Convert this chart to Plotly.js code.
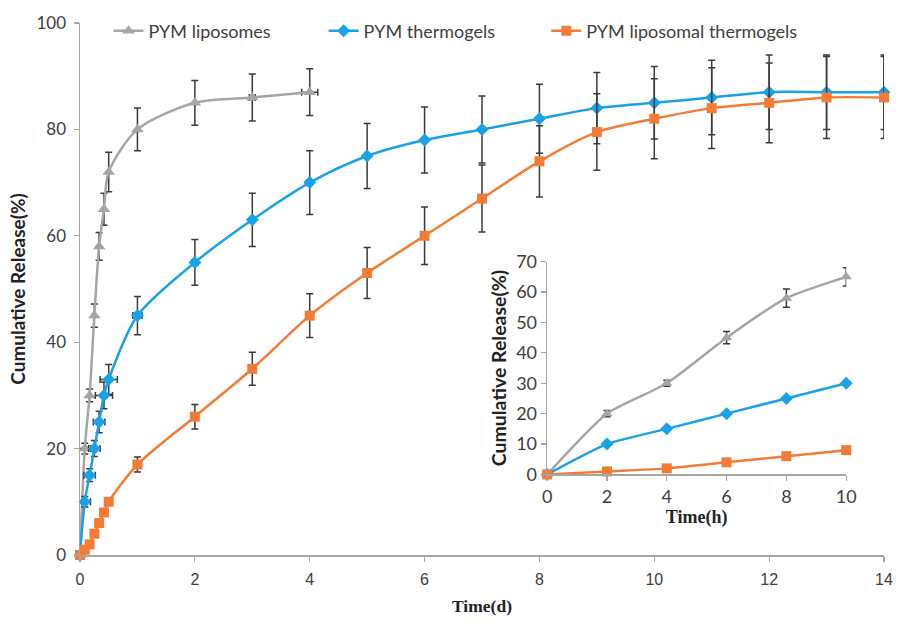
<!DOCTYPE html>
<html>
<head>
<meta charset="utf-8">
<script src="https://cdn.plot.ly/plotly-3.0.1.min.js"></script>
<style>html,body{margin:0;padding:0;background:#fff;}#chart{width:897px;height:621px;}</style>
</head>
<body>
<div id="chart"></div>
<script>
// ---- Main chart data (time in days) ----
const lipoTime = [0, 0.083, 0.167, 0.25, 0.333, 0.417, 0.5, 1, 2, 3, 4];
const lipoRelease = [0, 20, 30, 45, 58, 65, 72, 80, 85, 86, 87];
const lipoErr = [0, 1, 1.2, 2.2, 2.6, 3, 3.7, 4, 4.2, 4.4, 4.4];
const lipoXErr = [0, 0.1, 0, 0, 0, 0, 0, 0, 0, 0.05, 0.14];

const gelTime = [0, 0.083, 0.167, 0.25, 0.333, 0.417, 0.5, 1, 2, 3, 4, 5, 6, 7, 8, 9, 10, 11, 12, 13, 14];
const gelRelease = [0, 10, 15, 20, 25, 30, 33, 45, 55, 63, 70, 75, 78, 80, 82, 84, 85, 86, 87, 87, 87];
const gelErr = [0, 1, 1.2, 1.5, 2, 2.5, 2.8, 3.6, 4.3, 5, 6, 6.1, 6.2, 6.3, 6.5, 6.7, 6.8, 7, 7, 7, 7];
const gelXErr = [0, 0.1, 0.1, 0.1, 0.1, 0.15, 0.15, 0.08, 0.05, 0.03, 0.03, 0.03, 0.03, 0.03, 0.03, 0.03, 0.03, 0.03, 0.03, 0.03, 0.03];

const lipoGelTime = [0, 0.083, 0.167, 0.25, 0.333, 0.417, 0.5, 1, 2, 3, 4, 5, 6, 7, 8, 9, 10, 11, 12, 13, 14];
const lipoGelRelease = [0, 1, 2, 4, 6, 8, 10, 17, 26, 35, 45, 53, 60, 67, 74, 79.5, 82, 84, 85, 86, 86];
const lipoGelErr = [0, 0, 0, 0, 0, 0, 0, 1.4, 2.3, 3.1, 4.1, 4.8, 5.4, 6.3, 6.7, 7.2, 7.5, 7.6, 7.5, 7.7, 7.7];

// ---- Inset data (time in hours) ----
const insetTime = [0, 2, 4, 6, 8, 10];
const insetLipo = [0, 20, 30, 45, 58, 65];
const insetLipoErr = [0, 1, 1, 2, 3, 3];
const insetGel = [0, 10, 15, 20, 25, 30];
const insetLipoGel = [0, 1, 2, 4, 6, 8];

const xTicks = [0, 2, 4, 6, 8, 10, 12, 14];
const yTicks = [0, 20, 40, 60, 80, 100];
const insetXTicks = [0, 2, 4, 6, 8, 10];
const insetYTicks = [0, 10, 20, 30, 40, 50, 60, 70];

const names = ['PYM liposomes', 'PYM thermogels', 'PYM liposomal thermogels'];

const cGray = '#A5A5A5', cBlue = '#1BA1E6', cOrange = '#F47B35', cErr = '#3A3A3A';
const errStyle = (arr) => ({type: 'data', array: arr, visible: true, color: cErr, thickness: 1.5, width: 3.5});

const traces = [
  {x: lipoTime, y: lipoRelease, name: names[0], legend: 'legend', mode: 'lines+markers', type: 'scatter', cliponaxis: false,
   line: {color: cGray, width: 2.5, shape: 'spline', smoothing: 0.8},
   marker: {symbol: 'triangle-up', size: 11, color: cGray},
   error_y: errStyle(lipoErr), error_x: errStyle(lipoXErr)},
  {x: gelTime, y: gelRelease, name: names[1], legend: 'legend2', mode: 'lines+markers', type: 'scatter', cliponaxis: false,
   line: {color: cBlue, width: 2.5, shape: 'spline', smoothing: 0.8},
   marker: {symbol: 'diamond', size: 10, color: cBlue},
   error_y: errStyle(gelErr), error_x: errStyle(gelXErr)},
  {x: lipoGelTime, y: lipoGelRelease, name: names[2], legend: 'legend3', mode: 'lines+markers', type: 'scatter', cliponaxis: false,
   line: {color: cOrange, width: 2.5, shape: 'spline', smoothing: 0.8},
   marker: {symbol: 'square', size: 10, color: cOrange},
   error_y: errStyle(lipoGelErr)},
  // inset
  {x: insetTime, y: insetLipo, xaxis: 'x2', yaxis: 'y2', showlegend: false, mode: 'lines+markers', cliponaxis: false,
   line: {color: cGray, width: 2.5, shape: 'spline', smoothing: 0.6},
   marker: {symbol: 'triangle-up', size: 10, color: cGray}, error_y: errStyle(insetLipoErr)},
  {x: insetTime, y: insetGel, xaxis: 'x2', yaxis: 'y2', showlegend: false, mode: 'lines+markers', cliponaxis: false,
   line: {color: cBlue, width: 2.5, shape: 'spline', smoothing: 0.6},
   marker: {symbol: 'diamond', size: 10, color: cBlue}},
  {x: insetTime, y: insetLipoGel, xaxis: 'x2', yaxis: 'y2', showlegend: false, mode: 'lines+markers', cliponaxis: false,
   line: {color: cOrange, width: 2.5, shape: 'spline', smoothing: 0.6},
   marker: {symbol: 'square', size: 10, color: cOrange}}
];

const axisBase = {showline: true, linecolor: '#A6A6A6', linewidth: 1.5, ticks: 'outside', ticklen: 5,
  tickcolor: '#A6A6A6', tickwidth: 1.2, showgrid: false, zeroline: false, automargin: false};

const legendBase = {orientation: 'h', xanchor: 'left', y: 0.985, yanchor: 'middle',
  font: {family: 'Lato, sans-serif', size: 18, color: '#404040'}, bgcolor: 'rgba(0,0,0,0)'};

const layout = {
  width: 897, height: 621,
  margin: {l: 80, r: 13, t: 20, b: 66},
  paper_bgcolor: '#fff', plot_bgcolor: 'rgba(0,0,0,0)',
  showlegend: true,
  legend: Object.assign({}, legendBase, {x: 0.0355}),
  legend2: Object.assign({}, legendBase, {x: 0.303}),
  legend3: Object.assign({}, legendBase, {x: 0.580}),
  xaxis: Object.assign({}, axisBase, {range: [0, 14], tickvals: xTicks, ticklabelstandoff: 4,
    tickfont: {family: '"Liberation Sans Narrow", "Liberation Sans", sans-serif', size: 16, color: '#404040'},
    title: {text: '<b>Time(d)</b>', standoff: 13, font: {family: '"Liberation Serif", serif', size: 17.5, color: '#222'}}}),
  yaxis: Object.assign({}, axisBase, {automargin: true, range: [0, 100], tickvals: yTicks, ticklabelstandoff: 4,
    tickfont: {family: 'Lato, sans-serif', size: 17, color: '#404040'},
    title: {text: '<b>Cumulative Release(%)</b>', standoff: 6, font: {family: 'Lato, sans-serif', size: 19, color: '#222'}}}),
  xaxis2: Object.assign({}, axisBase, {domain: [0.581, 0.953], anchor: 'y2', range: [0, 10], tickvals: insetXTicks,
    tickfont: {family: 'Lato, sans-serif', size: 18, color: '#404040'},
    title: {text: '<b>Time(h)</b>', standoff: 3, font: {family: '"Liberation Serif", serif', size: 18, color: '#222'}}}),
  yaxis2: Object.assign({}, axisBase, {domain: [0.1514, 0.5514], anchor: 'x2', range: [0, 70], tickvals: insetYTicks,
    tickfont: {family: 'Lato, sans-serif', size: 18, color: '#404040'},
    title: {text: '<b>Cumulative Release(%)</b>', standoff: 4, font: {family: 'Lato, sans-serif', size: 19.5, color: '#222'}}})
};

Plotly.newPlot('chart', traces, layout, {displayModeBar: false, staticPlot: true});
</script>
</body>
</html>
